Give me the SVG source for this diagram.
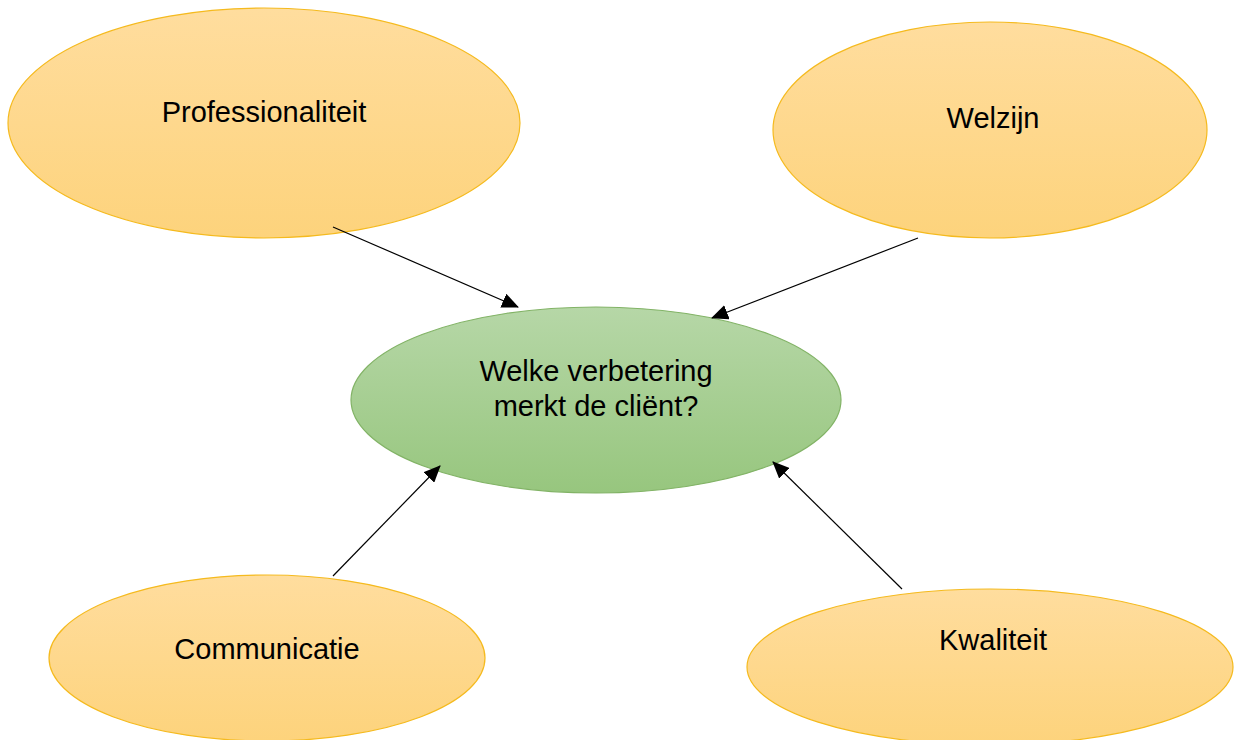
<svg xmlns="http://www.w3.org/2000/svg" width="1234" height="740" viewBox="0 0 1234 740">
<defs>
<linearGradient id="gOrange" x1="0" y1="0" x2="0" y2="1">
<stop offset="0" stop-color="#FFDD9E"/>
<stop offset="1" stop-color="#FDD37C"/>
</linearGradient>
<linearGradient id="gGreen" x1="0" y1="0" x2="0" y2="1">
<stop offset="0" stop-color="#B6D7A7"/>
<stop offset="1" stop-color="#97C67E"/>
</linearGradient>
<marker id="arrow" viewBox="0 0 17 15" refX="16" refY="7.5" markerWidth="17" markerHeight="15" markerUnits="userSpaceOnUse" orient="auto">
<path d="M0,0 L17,7.5 L0,15 Z" fill="#000"/>
</marker>
<style>
.o{fill:url(#gOrange);stroke:#F5BA1E;stroke-width:1.2}
.g{fill:url(#gGreen);stroke:#82B366;stroke-width:1.2}
.t{font-family:"Liberation Sans",Arial,sans-serif;font-size:29px;fill:#000;text-anchor:middle}
.c{stroke:#000;stroke-width:1.2;fill:none;marker-end:url(#arrow)}
</style>
</defs>
<rect width="1234" height="740" fill="#fff"/>
<g id="professionaliteit">
<ellipse class="o" cx="264" cy="123" rx="256" ry="115"/>
<text class="t" x="264" y="122">Professionaliteit</text>
</g>
<g id="welzijn">
<ellipse class="o" cx="990" cy="130" rx="217" ry="108"/>
<text class="t" x="993" y="128">Welzijn</text>
</g>
<g id="center">
<ellipse class="g" cx="596" cy="400" rx="245" ry="93"/>
<text class="t" x="596" y="381">Welke verbetering</text>
<text class="t" x="596" y="416">merkt de cliënt?</text>
</g>
<g id="communicatie">
<ellipse class="o" cx="267" cy="658" rx="218" ry="83"/>
<text class="t" x="267" y="659">Communicatie</text>
</g>
<g id="kwaliteit">
<ellipse class="o" cx="990" cy="667" rx="243" ry="78"/>
<text class="t" x="993" y="650">Kwaliteit</text>
</g>
<g id="connectors">
<line class="c" x1="333" y1="227" x2="518" y2="307"/>
<line class="c" x1="918" y1="238" x2="712" y2="318"/>
<line class="c" x1="333" y1="576" x2="440" y2="466"/>
<line class="c" x1="902" y1="589" x2="773" y2="462"/>
</g>
</svg>
